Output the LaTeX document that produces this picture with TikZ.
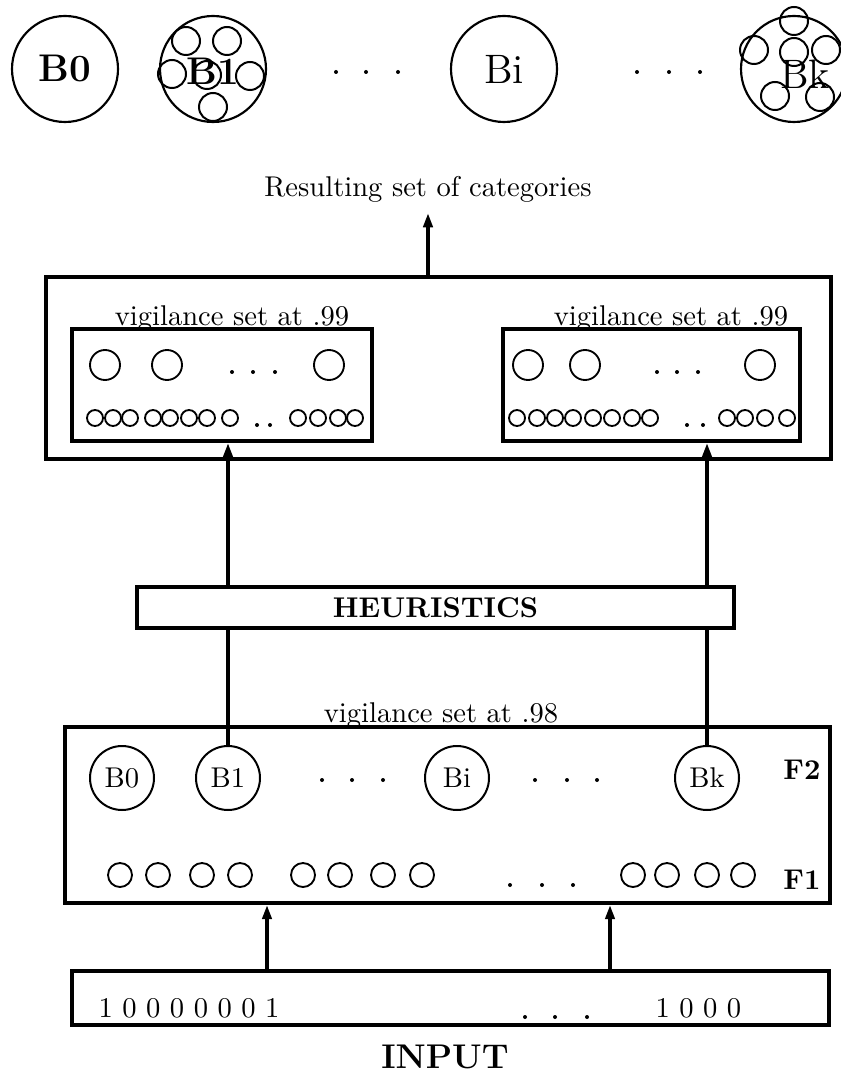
\documentclass[tikz,border=0pt]{standalone}
\usetikzlibrary{arrows.meta,fit}
\begin{document}
\begin{tikzpicture}[x=0.35pt,y=-0.35pt,font=\normalsize,
  boxline/.style={draw,line width=1.3pt,inner sep=0pt},
  catnode/.style={draw,circle,line width=0.75pt,inner sep=0pt,minimum size=37.1pt},
  fnode/.style={draw,circle,line width=0.7pt,inner sep=0pt,minimum size=22.4pt},
  arr/.style={line width=1.3pt,-{Triangle[length=5pt,width=3.2pt]}}]
\useasboundingbox (0,0) rectangle (840,1074);
\def\dotRow#1#2{\foreach \x in {#2} \fill (\x,#1) circle[radius=2];}
\def\ringRow#1#2#3{\foreach \x in {#3} \draw[line width=0.65pt] (\x,#1) circle[radius=#2];}
% resulting categories
\node[catnode] (topBzero) at (65,69) {\fontsize{13.5}{16}\selectfont\bfseries B0};
\node[catnode] (topBone) at (213,69) {};
\foreach \p in {(186,41),(227,41),(172,74),(207,75),(250,76),(213,107)}
  \draw[line width=0.7pt] \p circle[radius=14];
\node (topBoneLbl) at (213,71) {\fontsize{13.5}{16}\selectfont\bfseries B1};
\dotRow{72}{336,366,398}
\node[catnode] (topBi) at (504,69) {\Large Bi};
\dotRow{72}{637,669,700}
\node[catnode] (topBk) at (794,69) {};
\foreach \p in {(794,21),(754,50),(794,52),(826,50),(775,96),(820,97)}
  \draw[line width=0.7pt] \p circle[radius=14];
\node (topBkLbl) at (805,74) {\Large Bk};
\node[anchor=base] (result) at (428,197) {Resulting set of categories};
% ART modules
\node[boxline,fit={(46,277) (831,459)}] (artBox) {};
\node[boxline,fit={(72,329) (372,441)}] (artLeft) {};
\node[boxline,fit={(503,329) (800,441)}] (artRight) {};
\node[anchor=base] (vigLeft) at (232,326) {vigilance set at .99};
\node[anchor=base] (vigRight) at (671,326) {vigilance set at .99};
\ringRow{365}{15}{105,167,329}
\ringRow{365}{15}{528,585,760}
\dotRow{372}{232,253,275}
\dotRow{372}{657,677,698}
\ringRow{418}{8}{95,113,130,153,170,189,207,230,298,318,338,355}
\ringRow{418}{8}{517,537,555,573,593,612,632,650,727,745,765,787}
\dotRow{425}{257,270}
\dotRow{425}{687,703}
% heuristics
\node[boxline,fit={(137,587) (734,628)}] (heur) {};
\node (heurLbl) at (heur.center) {\bfseries HEURISTICS};
% F1/F2 fields
\node[boxline,fit={(65,727) (830,903)}] (fieldBox) {};
\node[anchor=base] (vigBottom) at (441,722) {vigilance set at .98};
\node[fnode] (fBzero) at (122,778) {B0};
\node[fnode] (fBone) at (228,778) {B1};
\node[fnode] (fBi) at (457,778) {Bi};
\node[fnode] (fBk) at (707,778) {Bk};
\dotRow{780}{322,352,383,535,567,597}
\node (labFtwo) at (802,770) {\bfseries F2};
\node (labFone) at (802,880) {\bfseries F1};
\ringRow{875}{12}{120,158,202,240,303,340,383,422,633,667,707,743}
\dotRow{885}{510,542,573}
% input
\node[boxline,fit={(72,971) (829,1025)}] (inputBox) {};
\node[anchor=base west,inner sep=0pt] (bitsA) at (98,1017) {1 0 0 0 0 0 0 1};
\node[anchor=base west,inner sep=0pt] (bitsB) at (655,1017) {1 0 0 0};
\dotRow{1017}{525,555,587}
\node[anchor=base] (inputLbl) at (445,1068) {\large\bfseries INPUT};
% connections
\coordinate (tapA) at (267,940);
\coordinate (tapB) at (610,940);
\draw[arr] (inputBox.north -| tapA) -- (fieldBox.south -| tapA);
\draw[arr] (inputBox.north -| tapB) -- (fieldBox.south -| tapB);
\draw[line width=1.3pt] (fBone.north) -- (heur.south -| fBone.north);
\draw[line width=1.3pt] (fBk.north) -- (heur.south -| fBk.north);
\draw[arr] (heur.north -| fBone.north) -- (artLeft.south -| fBone.north);
\draw[arr] (heur.north -| fBk.north) -- (artRight.south -| fBk.north);
\draw[arr] (artBox.north -| result.south) -- (result.south);
\end{tikzpicture}
\end{document}
